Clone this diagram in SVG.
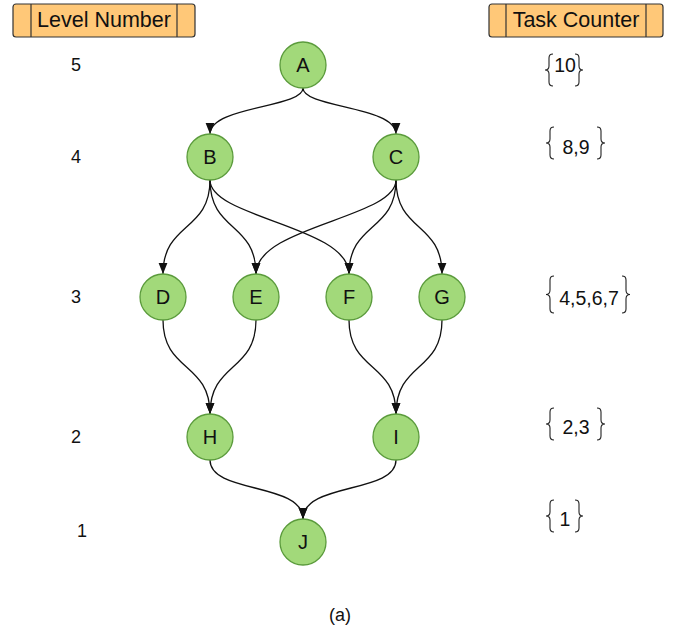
<svg xmlns="http://www.w3.org/2000/svg" width="681" height="631" viewBox="0 0 681 631">
  <style>
    .hdr { fill: #ffc878; stroke: #333; stroke-width: 1.2; }
    .div { stroke: #333; stroke-width: 1.2; }
    .hdr-t { font-family: "Liberation Sans", Arial, sans-serif; font-size: 21.5px; fill: #111; text-anchor: middle; dominant-baseline: central; }
    .node circle { fill: #a2d97a; stroke: #5b9b3c; stroke-width: 1.3; }
    .node text { font-family: "Liberation Sans", Arial, sans-serif; font-size: 20px; fill: #111; text-anchor: middle; dominant-baseline: central; }
    .lvl { font-family: "Liberation Sans", Arial, sans-serif; font-size: 18px; fill: #111; text-anchor: middle; dominant-baseline: central; }
    .cnt { font-family: "Liberation Sans", Arial, sans-serif; font-size: 19.5px; fill: #111; text-anchor: middle; dominant-baseline: central; }
    .brace { fill: none; stroke: #222; stroke-width: 1.1; }
    .edges path { fill: none; stroke: #111; stroke-width: 1.3; marker-end: url(#arrow); }
  </style>
  <defs>
    <marker id="arrow" viewBox="0 0 10 10" refX="10" refY="5" markerWidth="11" markerHeight="11" markerUnits="userSpaceOnUse" orient="auto">
      <path d="M0,1 L10,5 L0,9 Z" fill="#111"/>
    </marker>
    <path id="lb" d="M5,0 Q1,0 1,4 L1,12 Q1,16 -3,16 Q1,16 1,20 L1,28 Q1,32 5,32" class="brace"/>
    <path id="lbt" d="M5,0 Q1,0 1,4 L1,14 Q1,18.5 -3,18.5 Q1,18.5 1,23 L1,33 Q1,37 5,37" class="brace"/>
  </defs>

  <!-- column headers -->
  <g id="hdr-level">
    <rect class="hdr" x="13" y="4" width="182" height="33" rx="3"/>
    <line class="div" x1="31" y1="4" x2="31" y2="37"/>
    <line class="div" x1="177" y1="4" x2="177" y2="37"/>
    <text class="hdr-t" x="104" y="20">Level Number</text>
  </g>
  <g id="hdr-task">
    <rect class="hdr" x="489" y="4" width="174" height="33" rx="3"/>
    <line class="div" x1="506" y1="4" x2="506" y2="37"/>
    <line class="div" x1="646" y1="4" x2="646" y2="37"/>
    <text class="hdr-t" x="576" y="20">Task Counter</text>
  </g>

  <!-- level numbers -->
  <text class="lvl" x="76" y="65">5</text>
  <text class="lvl" x="76" y="157">4</text>
  <text class="lvl" x="76" y="297">3</text>
  <text class="lvl" x="76" y="437">2</text>
  <text class="lvl" x="82" y="531">1</text>

  <!-- task counters -->
  <g id="cnt5">
    <use href="#lb" x="548" y="54"/>
    <use href="#lb" transform="translate(580,54) scale(-1,1)"/>
    <text class="cnt" x="565" y="65">10</text>
  </g>
  <g id="cnt4">
    <use href="#lb" x="549" y="127"/>
    <use href="#lb" transform="translate(602,127) scale(-1,1)"/>
    <text class="cnt" x="576" y="147">8,9</text>
  </g>
  <g id="cnt3">
    <use href="#lbt" x="549" y="276"/>
    <use href="#lbt" transform="translate(627,276) scale(-1,1)"/>
    <text class="cnt" x="589" y="298">4,5,6,7</text>
  </g>
  <g id="cnt2">
    <use href="#lb" x="549" y="408"/>
    <use href="#lb" transform="translate(602,408) scale(-1,1)"/>
    <text class="cnt" x="576" y="427">2,3</text>
  </g>
  <g id="cnt1">
    <use href="#lb" x="549" y="500"/>
    <use href="#lb" transform="translate(580,500) scale(-1,1)"/>
    <text class="cnt" x="565" y="519">1</text>
  </g>

  <!-- connectors -->
  <g id="edges" class="edges">
    <path d="M303,88 C303,108 210,106 210,134"/>
    <path d="M303,88 C303,108 396,106 396,134"/>
    <path d="M210,180 C210,232 163,222 163,274"/>
    <path d="M210,180 C210,232 256,222 256,274"/>
    <path d="M210,180 C210,218 349,226 349,274"/>
    <path d="M396,180 C396,218 256,226 256,274"/>
    <path d="M396,180 C396,232 349,222 349,274"/>
    <path d="M396,180 C396,232 442,222 442,274"/>
    <path d="M163,320 C163,372 210,362 210,414"/>
    <path d="M256,320 C256,372 210,362 210,414"/>
    <path d="M349,320 C349,372 396,362 396,414"/>
    <path d="M442,320 C442,372 396,362 396,414"/>
    <path d="M210,460 C210,494 303,482 303,519"/>
    <path d="M396,460 C396,494 303,482 303,519"/>
  </g>

  <!-- nodes -->
  <g id="A" class="node"><circle cx="303" cy="65" r="23"/><text x="303" y="65">A</text></g>
  <g id="B" class="node"><circle cx="210" cy="157" r="23"/><text x="210" y="157">B</text></g>
  <g id="C" class="node"><circle cx="396" cy="157" r="23"/><text x="396" y="157">C</text></g>
  <g id="D" class="node"><circle cx="163" cy="297" r="23"/><text x="163" y="297">D</text></g>
  <g id="E" class="node"><circle cx="256" cy="297" r="23"/><text x="256" y="297">E</text></g>
  <g id="F" class="node"><circle cx="349" cy="297" r="23"/><text x="349" y="297">F</text></g>
  <g id="G" class="node"><circle cx="442" cy="297" r="23"/><text x="442" y="297">G</text></g>
  <g id="H" class="node"><circle cx="210" cy="437" r="23"/><text x="210" y="437">H</text></g>
  <g id="I" class="node"><circle cx="396" cy="437" r="23"/><text x="396" y="437">I</text></g>
  <g id="J" class="node"><circle cx="303" cy="542" r="23"/><text x="303" y="542">J</text></g>

  <text class="lvl" x="340" y="615">(a)</text>
</svg>
